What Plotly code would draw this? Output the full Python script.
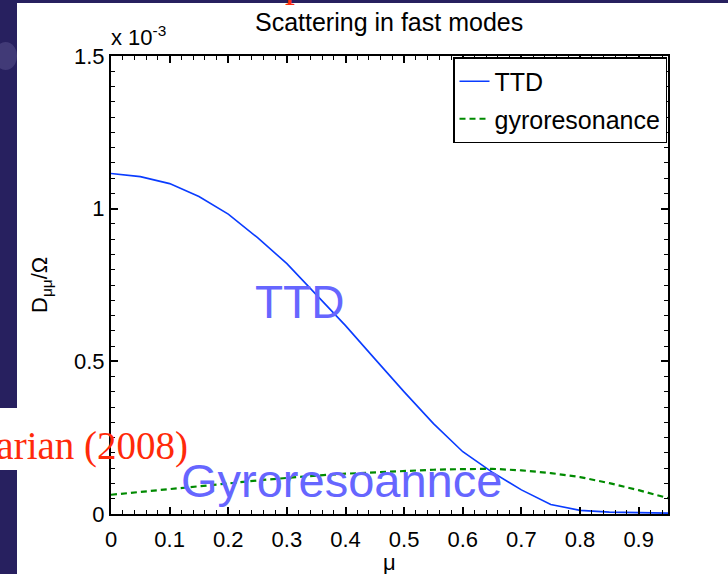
import plotly.graph_objects as go

# pitch-angle cosine grid
mu = [0.00, 0.05, 0.10, 0.15, 0.20, 0.25, 0.30, 0.35, 0.40, 0.45,
      0.50, 0.55, 0.60, 0.65, 0.70, 0.75, 0.80, 0.85, 0.90, 0.95]

# D_mumu / Omega in units of 1e-3
ttd = [1.115, 1.105, 1.082, 1.040, 0.982, 0.905, 0.820, 0.720, 0.617, 0.508,
       0.400, 0.296, 0.204, 0.137, 0.079, 0.031, 0.012, 0.006, 0.004, 0.003]
gyro = [0.063, 0.072, 0.080, 0.090, 0.100, 0.110, 0.119, 0.126, 0.132, 0.137,
        0.141, 0.145, 0.147, 0.148, 0.143, 0.134, 0.121, 0.101, 0.078, 0.052]

x_ticks = [0, 0.1, 0.2, 0.3, 0.4, 0.5, 0.6, 0.7, 0.8, 0.9]
x_ticktext = ["0", "0.1", "0.2", "0.3", "0.4", "0.5", "0.6", "0.7", "0.8", "0.9"]
y_ticks = [0, 0.5, 1.0, 1.5]
y_ticktext = ["0", "0.5", "1", "1.5"]

W, H = 728, 574
L, R, T, B = 111, 60, 56, 60
PW, PH = W - L - R, H - T - B

def px(x):
    return (x - L) / PW

def py(y):
    return (H - B - y) / PH

SANS = "Liberation Sans, Arial, Helvetica, sans-serif"
SERIF = "Liberation Serif, Times New Roman, serif"
NAVY = "#27205f"

fig = go.Figure()
fig.add_trace(go.Scatter(x=mu, y=ttd, mode="lines", name="TTD",
                         line=dict(color="#0a3cff", width=1.6),
                         legendgroup="a"))
fig.add_trace(go.Scatter(x=mu, y=gyro, mode="lines", name="gyroresonance",
                         line=dict(color="#008a00", width=2.2, dash="6px,4px"),
                         legendgroup="b"))

axis_common = dict(
    showgrid=False, zeroline=False, showline=True, linecolor="black", linewidth=2,
    mirror="ticks", ticks="inside", ticklen=7, tickwidth=1.5, tickcolor="black",
    tickfont=dict(family=SANS, size=22, color="black"),
)
fig.update_xaxes(range=[0, 0.95], tickvals=x_ticks, ticktext=x_ticktext,
                 ticklabelstandoff=5,
                 minor=dict(dtick=0.02, tick0=0, ticks="inside", ticklen=4,
                            tickwidth=1.2, tickcolor="black"),
                 **axis_common)
fig.update_yaxes(range=[0, 1.5], tickvals=y_ticks, ticktext=y_ticktext,
                 minor=dict(dtick=0.05, tick0=0, ticks="inside", ticklen=4,
                            tickwidth=1.2, tickcolor="black"),
                 **axis_common)

shapes = [
    # slide background strips
    dict(type="rect", xref="paper", yref="paper", x0=px(-5), x1=px(17),
         y0=py(H + 5), y1=py(-5), fillcolor=NAVY, line=dict(width=0), layer="below"),
    dict(type="rect", xref="paper", yref="paper", x0=px(-5), x1=px(W + 5),
         y0=py(3), y1=py(-5), fillcolor=NAVY, line=dict(width=0), layer="below"),
    dict(type="circle", xref="paper", yref="paper", x0=px(-6), x1=px(17),
         y0=py(70), y1=py(42), fillcolor="rgba(190,180,235,0.18)",
         line=dict(width=0), layer="below"),
    dict(type="rect", xref="paper", yref="paper", x0=px(-5), x1=px(17),
         y0=py(470), y1=py(408), fillcolor="white", line=dict(width=0), layer="below"),
]

def note(text, x, y, size, color="black", family=SANS, xa="center", ya="middle", angle=0):
    return dict(text=text, x=px(x), y=py(y), xref="paper", yref="paper",
                xanchor=xa, yanchor=ya, textangle=angle, showarrow=False,
                font=dict(family=family, size=size, color=color))

annotations = [
    note("Scattering in fast modes", 389, 22, 25),
    note("x 10<sup>-3</sup>", 109, 52, 22, xa="left", ya="bottom"),
    note("D<sub>μμ</sub>/Ω", 41, 285, 22, angle=-90),
    note("μ", 389, 562, 22),
    note("TTD", 299, 302, 46, color="#6666ff"),
    note("Gyroresoannce", 341, 480, 47, color="#6666ff"),
    note("Yan & Lazarian (2008)", 190, 446, 39, color="#ff2a0a", family=SERIF, xa="right"),
    note("p", 283, 7, 40, color="#ff2a0a", family=SERIF, xa="left", ya="bottom"),
]

fig.update_layout(
    width=W, height=H, margin=dict(l=L, r=R, t=T, b=B),
    paper_bgcolor="white", plot_bgcolor="white",
    shapes=shapes, annotations=annotations,
    showlegend=True,
    legend=dict(x=px(453), y=py(57), xanchor="left", yanchor="top",
                bgcolor="white", bordercolor="black", borderwidth=1.5,
                font=dict(family=SANS, size=25, color="black"),
                traceorder="grouped", tracegroupgap=2),
)

fig.write_html("out.html")
